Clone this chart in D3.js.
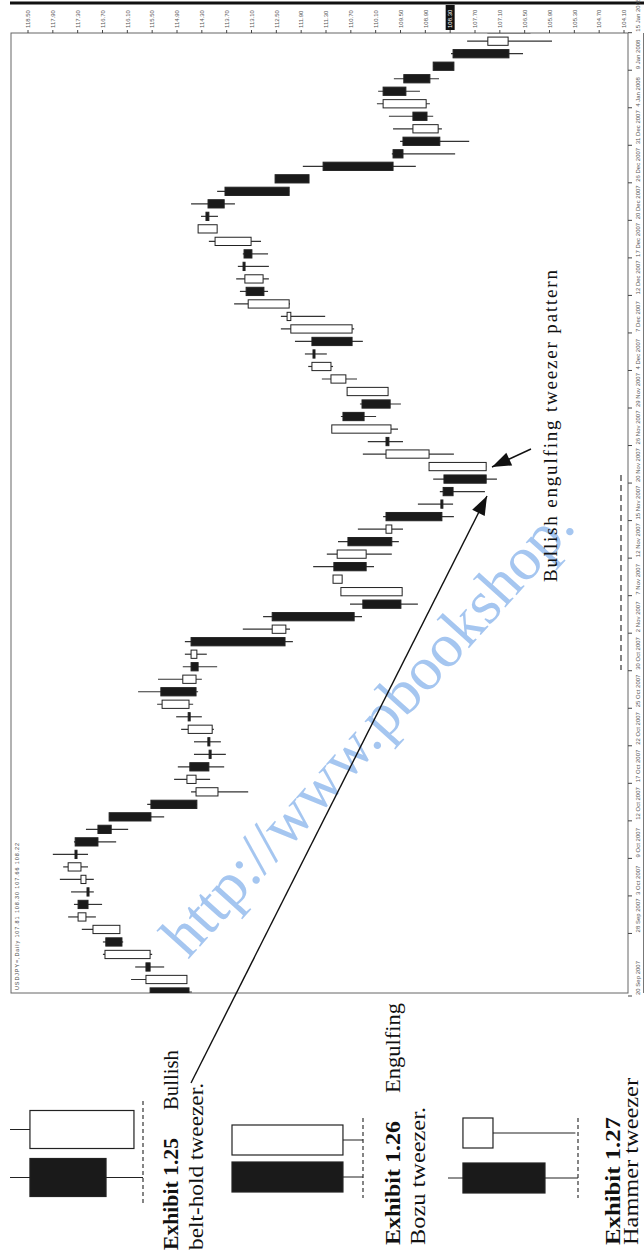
<!DOCTYPE html>
<html><head><meta charset="utf-8">
<script src="https://cdn.jsdelivr.net/npm/d3@7"></script>
<style>body{margin:0;background:#fff}svg{display:block}</style>
</head><body>
<svg id="c" width="644" height="1255"></svg>
<script>
// ---------- DATA ----------
const dates = ["20 Sep 2007","21 Sep 2007","25 Sep 2007","26 Sep 2007","27 Sep 2007","28 Sep 2007",
"1 Oct 2007","2 Oct 2007","3 Oct 2007","4 Oct 2007","5 Oct 2007","9 Oct 2007","10 Oct 2007","11 Oct 2007","12 Oct 2007",
"15 Oct 2007","16 Oct 2007","17 Oct 2007","18 Oct 2007","19 Oct 2007","22 Oct 2007","23 Oct 2007","24 Oct 2007","25 Oct 2007",
"26 Oct 2007","29 Oct 2007","30 Oct 2007","31 Oct 2007","1 Nov 2007","2 Nov 2007","5 Nov 2007","6 Nov 2007","7 Nov 2007",
"8 Nov 2007","9 Nov 2007","12 Nov 2007","13 Nov 2007","14 Nov 2007","15 Nov 2007","16 Nov 2007","19 Nov 2007","20 Nov 2007",
"21 Nov 2007","22 Nov 2007","26 Nov 2007","27 Nov 2007","28 Nov 2007","29 Nov 2007","30 Nov 2007","3 Dec 2007","4 Dec 2007",
"5 Dec 2007","6 Dec 2007","7 Dec 2007","10 Dec 2007","11 Dec 2007","12 Dec 2007","13 Dec 2007","14 Dec 2007","17 Dec 2007",
"18 Dec 2007","19 Dec 2007","20 Dec 2007","21 Dec 2007","24 Dec 2007","26 Dec 2007","27 Dec 2007","28 Dec 2007","31 Dec 2007",
"2 Jan 2008","3 Jan 2008","4 Jan 2008","7 Jan 2008","8 Jan 2008","9 Jan 2008","10 Jan 2008","11 Jan 2008","15 Jan 2008"];

const openP = [115.55,114.66,115.65,115.55,116.62,116.28,117.10,117.29,117.05,117.10,
117.22,117.34,117.36,116.81,116.54,115.53,113.91,114.44,114.59,114.10,
114.13,114.05,114.63,114.61,115.29,114.44,114.56,114.42,114.56,112.27,
112.60,110.41,109.46,110.91,111.11,110.33,110.77,109.71,109.85,108.50,
108.47,108.45,107.43,108.81,109.85,109.73,110.89,110.43,109.80,110.82,
111.18,111.59,111.64,110.67,112.15,112.19,113.23,112.82,113.28,113.28,
113.11,113.93,114.20,114.15,113.74,112.53,111.37,109.68,109.44,108.59,
109.20,108.88,109.92,109.42,108.71,108.23,106.90,107.39];
const highP = [115.55,116.01,115.91,116.69,116.69,117.20,117.53,117.39,117.46,117.73,
117.65,117.90,117.39,117.10,116.54,115.62,114.56,114.97,114.88,114.49,
114.49,114.80,114.92,115.38,115.84,115.36,114.76,114.71,114.71,113.31,
112.82,110.72,110.94,111.13,111.61,111.28,111.01,110.53,109.92,109.08,
108.55,108.71,108.81,110.41,110.29,111.16,110.94,110.48,110.79,111.40,
111.73,111.81,112.05,112.39,112.39,113.52,113.38,113.47,113.43,113.31,
114.13,114.39,114.32,114.56,113.93,112.53,111.86,109.71,109.51,109.68,
109.78,110.07,110.04,109.66,108.71,108.28,107.89,107.46];
const lowP = [114.54,114.66,115.21,115.50,116.20,116.28,116.86,116.71,116.91,116.91,
117.05,117.05,116.37,116.08,115.21,114.42,113.18,114.10,113.76,113.72,
113.84,114.01,114.30,114.51,114.39,114.30,113.93,114.18,112.10,112.17,
110.43,109.08,109.46,110.91,110.14,109.71,109.54,109.44,108.21,108.23,
107.46,107.17,107.43,108.21,109.44,109.56,110.09,109.49,109.80,110.55,
111.13,111.28,110.41,110.62,111.32,112.17,112.70,112.68,112.68,112.70,
112.87,113.93,113.91,113.50,112.19,111.71,109.13,108.18,107.84,108.50,
108.71,108.79,109.03,108.57,108.21,106.54,105.84,106.25];
const closeP = [114.61,115.65,115.55,116.64,116.23,116.93,117.29,117.05,117.05,117.22,
117.53,117.34,116.81,116.49,115.53,114.42,114.44,114.66,114.13,114.10,
114.13,114.63,114.59,115.26,114.44,114.76,114.39,114.56,112.29,112.60,
110.62,109.49,110.94,111.13,110.33,111.03,109.71,109.85,108.50,108.50,
108.23,107.43,108.81,109.85,109.78,111.16,110.38,109.75,110.79,111.18,
111.64,111.59,110.67,112.15,112.24,113.18,112.80,113.26,113.28,113.09,
113.98,114.39,114.13,113.76,112.19,111.71,109.68,109.44,108.55,109.20,
108.86,109.92,109.37,108.79,108.21,106.88,107.39,106.37];

const priceTicks = ["118.50","117.90","117.30","116.70","116.10","115.50","114.90","114.30","113.70",
"113.10","112.50","111.90","111.30","110.70","110.10","109.50","108.90","108.30","107.70","107.10",
"106.50","105.90","105.30","104.70","104.10"];
const highlightedTick = "108.30";
const dateTicks = ["15 Jan 2008","9 Jan 2008","4 Jan 2008","31 Dec 2007","26 Dec 2007","20 Dec 2007",
"17 Dec 2007","12 Dec 2007","7 Dec 2007","4 Dec 2007","29 Nov 2007","26 Nov 2007","20 Nov 2007",
"15 Nov 2007","12 Nov 2007","7 Nov 2007","2 Nov 2007","30 Oct 2007","25 Oct 2007","22 Oct 2007",
"17 Oct 2007","12 Oct 2007","9 Oct 2007","3 Oct 2007","28 Sep 2007","20 Sep 2007"];
const chartTitle = "USDJPY=,Daily  107.81  108.30  107.66  108.22";

// exhibit schematic candles (index 0 = first/lower candle, 1 = second/upper)
const beltOpen = [85, 6.8], beltHigh = [100, 100], beltLow = [0, 6.8], beltClose = [27.8, 85];
const bozuOpen = [100, 15.3], bozuHigh = [100, 100], bozuLow = [0, 0], bozuClose = [15.3, 100];
const hamOpen = [88.5, 65.4], hamHigh = [100, 88.5], hamLow = [0, 2], hamClose = [25.4, 88.5];

// ---------- DRAW ----------
const svg = d3.select("#c");
const serif = "'Liberation Serif','DejaVu Serif',serif";
const sans = "'Liberation Sans','DejaVu Sans',sans-serif";

const x = d3.scaleLinear().domain([118.5, 104.1]).range([28, 624]);
const y = d3.scalePoint().domain(dates).range([992, 28.7]);
const bh = y.step() * 0.66;
const plot = {l: 11, t: 33, r: 628, b: 993};

// top heavy rule
svg.append("rect").attr("x", 10).attr("y", 1.5).attr("width", 634).attr("height", 3).attr("fill", "#111");

// frame
svg.append("rect").attr("x", plot.l).attr("y", plot.t).attr("width", plot.r - plot.l).attr("height", plot.b - plot.t)
  .attr("fill", "none").attr("stroke", "#666").attr("stroke-width", 1);
svg.append("line").attr("x1", 643.5).attr("x2", 643.5).attr("y1", plot.t).attr("y2", plot.b).attr("stroke", "#777");

// price axis (top)
const pa = svg.append("g");
priceTicks.forEach(t => {
  const xv = x(+t);
  pa.append("line").attr("x1", xv).attr("x2", xv).attr("y1", 30).attr("y2", 33).attr("stroke", "#444");
  const hl = t === highlightedTick;
  if (hl) pa.append("rect").attr("x", xv - 4.5).attr("y", 5).attr("width", 9).attr("height", 25).attr("fill", "#111");
  pa.append("text").attr("transform", `translate(${xv + 2.2},28) rotate(-90)`)
    .attr("font-family", sans).attr("font-size", 6).attr("fill", hl ? "#fff" : "#555").text(t);
});

// date axis (right)
const da = svg.append("g");
dateTicks.forEach(d => {
  const yv = y(d);
  da.append("line").attr("x1", 628).attr("x2", 632).attr("y1", yv + 4).attr("y2", yv + 4).attr("stroke", "#444");
  da.append("text").attr("transform", `translate(${640},${yv + 3}) rotate(-90)`)
    .attr("font-family", sans).attr("font-size", 6).attr("fill", "#555").text(d);
});

// clip
svg.append("clipPath").attr("id", "pc").append("rect")
  .attr("x", plot.l).attr("y", plot.t).attr("width", plot.r - plot.l).attr("height", plot.b - plot.t);
const cg = svg.append("g").attr("clip-path", "url(#pc)");

const idx = d3.range(dates.length);
cg.selectAll("line.w").data(idx).join("line")
  .attr("x1", i => x(highP[i])).attr("x2", i => x(lowP[i]))
  .attr("y1", i => y(dates[i])).attr("y2", i => y(dates[i]))
  .attr("stroke", "#333").attr("stroke-width", 1.2);
cg.selectAll("rect.b").data(idx).join("rect")
  .attr("x", i => Math.min(x(openP[i]), x(closeP[i])) - (openP[i] === closeP[i] ? 1 : 0))
  .attr("width", i => Math.max(Math.abs(x(openP[i]) - x(closeP[i])), 2))
  .attr("y", i => y(dates[i]) - bh / 2).attr("height", bh)
  .attr("fill", i => closeP[i] > openP[i] ? "#fff" : "#1a1a1a")
  .attr("stroke", "#222").attr("stroke-width", 1);

// chart title
svg.append("text").attr("transform", `translate(19,990) rotate(-90)`)
  .attr("font-family", sans).attr("font-size", 5.5).attr("fill", "#444")
  .attr("textLength", 147).attr("lengthAdjust", "spacing").text(chartTitle);

// dashed artifact line
svg.append("line").attr("x1", 621).attr("x2", 621).attr("y1", 475).attr("y2", 670)
  .attr("stroke", "#333").attr("stroke-width", 1.2).attr("stroke-dasharray", "6,4");

// watermark
svg.append("text").attr("transform", "translate(188,960) rotate(-48)")
  .attr("font-family", serif).attr("font-size", 62).attr("fill", "#9cc0ef").attr("opacity", 0.9)
  .text("http://www.pbookshop.");

// annotation
svg.append("text").attr("transform", "translate(557,582) rotate(-90)")
  .attr("font-family", serif).attr("font-size", 19).attr("fill", "#111")
  .attr("textLength", 312).attr("lengthAdjust", "spacing").text("Bullish engulfing tweezer pattern");

// arrows
function arrow(x1, y1, x2, y2) {
  svg.append("line").attr("x1", x1).attr("y1", y1).attr("x2", x2).attr("y2", y2)
    .attr("stroke", "#111").attr("stroke-width", 1.4);
  const a = Math.atan2(y2 - y1, x2 - x1), L = 19, W = 7;
  const bx = x2 - L * Math.cos(a), by = y2 - L * Math.sin(a);
  const px = -Math.sin(a) * W, py = Math.cos(a) * W;
  svg.append("path").attr("d", `M${x2},${y2}L${bx + px},${by + py}L${bx - px},${by - py}Z`).attr("fill", "#111");
}
arrow(531, 449, 492, 467);
arrow(191, 1083, 487, 496);

// exhibits
function exhibit(o, h, l, c, xr, yc, bodyH, dash) {
  const ex = d3.scaleLinear().domain([100, 0]).range(xr);
  const ey = d3.scalePoint().domain([0, 1]).range(yc);
  const g = svg.append("g");
  [0, 1].forEach(i => {
    g.append("line").attr("x1", ex(h[i])).attr("x2", ex(l[i])).attr("y1", ey(i)).attr("y2", ey(i))
      .attr("stroke", "#222").attr("stroke-width", 1.2);
    g.append("rect").attr("x", Math.min(ex(o[i]), ex(c[i]))).attr("width", Math.abs(ex(o[i]) - ex(c[i])))
      .attr("y", ey(i) - bodyH / 2).attr("height", bodyH)
      .attr("fill", c[i] > o[i] ? "#fff" : "#1a1a1a").attr("stroke", "#222").attr("stroke-width", 1.2);
  });
  g.append("line").attr("x1", ex(0)).attr("x2", ex(0)).attr("y1", dash[0]).attr("y2", dash[1])
    .attr("stroke", "#222").attr("stroke-width", 1.1).attr("stroke-dasharray", "4,3");
}
exhibit(beltOpen, beltHigh, beltLow, beltClose, [10, 143], [1177.5, 1129.5], 38, [1101, 1205]);
exhibit(bozuOpen, bozuHigh, bozuLow, bozuClose, [232, 363], [1177, 1140], 30, [1118, 1198]);
exhibit(hamOpen, hamHigh, hamLow, hamClose, [448, 578], [1178, 1133], 30, [1118, 1198]);

function vtext(str, bx, by, len, bold) {
  svg.append("text").attr("transform", `translate(${bx},${by}) rotate(-90)`)
    .attr("font-family", serif).attr("font-size", 20).attr("font-weight", bold ? "bold" : "normal")
    .attr("fill", "#111").attr("textLength", len).attr("lengthAdjust", "spacingAndGlyphs").text(str);
}
vtext("Exhibit 1.25", 178, 1250, 112, true);
vtext("Bullish", 178, 1110, 60, false);
vtext("belt-hold tweezer.", 203, 1250, 167, false);
vtext("Exhibit 1.26", 400, 1245, 124, true);
vtext("Engulfing", 400, 1093, 90, false);
vtext("Bozu tweezer.", 425, 1245, 138, false);
vtext("Exhibit 1.27", 620, 1245, 128, true);
vtext("Hammer tweezer", 638, 1245, 167, false);
</script>
</body></html>
